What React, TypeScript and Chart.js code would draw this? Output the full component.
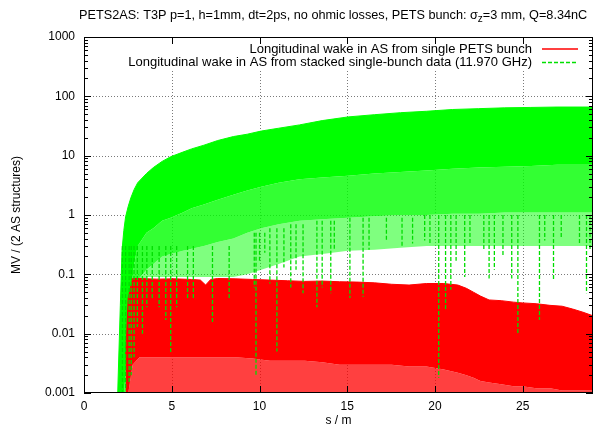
import React, { useEffect, useRef } from "react";
import { Chart, registerables } from "chart.js";

Chart.register(...registerables);

const titleMain = "PETS2AS: T3P p=1, h=1mm, dt=2ps, no ohmic losses, PETS bunch: σ";
const titleSub = "z";
const titleTail = "=3 mm, Q=8.34nC";
const legendLabels = [
  "Longitudinal wake in AS from single PETS bunch",
  "Longitudinal wake in AS from stacked single-bunch data (11.970 GHz)",
];
const xTitle = "s / m";
const yTitle = "MV / (2 AS structures)";
const xTickValues = [0, 5, 10, 15, 20, 25];
const xTickLabels = ["0", "5", "10", "15", "20", "25"];
const yTickValues = [0.001, 0.01, 0.1, 1, 10, 100, 1000];
const yTickLabels = ["0.001", "0.01", "0.1", "1", "10", "100", "1000"];

// green (stacked single-bunch) envelopes
const greenX = [1.92, 2.07, 2.17, 2.27, 2.37, 2.52, 2.67, 2.86, 3.06, 3.56, 3.95, 4.45, 4.94, 5.64, 6.13, 6.83, 7.62, 8.51, 9.3, 10.1, 11.09, 12.28, 13.57, 15.05, 16.54, 18.03, 19.51, 21.0, 22.49, 23.97, 25.46, 26.95, 28.43, 29.0];
const greenTop = [0.001, 0.03, 0.26, 0.55, 0.93, 1.4, 1.95, 2.7, 3.5, 5.0, 6.3, 8.0, 9.6, 11.5, 13, 15, 18, 21, 23, 26, 29, 33, 39, 45, 49, 53, 56, 60, 62, 64, 65, 66, 66, 66];
const greenDense = [0.001, 0.001, 0.001, 0.001, 0.002, 0.01, 0.05, 0.15, 0.3, 0.5, 0.6, 0.8, 0.9, 1.1, 1.3, 1.5, 1.8, 2.2, 2.6, 3, 3.5, 4, 4.3, 4.6, 5, 5.3, 5.6, 6, 6.3, 6.5, 6.7, 7, 7, 7];
const greenMid = [0.001, 0.001, 0.001, 0.001, 0.001, 0.002, 0.01, 0.04, 0.08, 0.12, 0.15, 0.2, 0.22, 0.25, 0.27, 0.3, 0.35, 0.4, 0.5, 0.6, 0.7, 0.8, 0.85, 0.9, 0.95, 1.0, 1.0, 1.05, 1.05, 1.1, 1.1, 1.1, 1.1, 1.1];
const greenSparse = [0.001, 0.001, 0.001, 0.001, 0.001, 0.001, 0.002, 0.006, 0.03, 0.09, 0.09, 0.09, 0.09, 0.09, 0.09, 0.09, 0.09, 0.09, 0.1, 0.12, 0.15, 0.2, 0.22, 0.25, 0.26, 0.28, 0.3, 0.3, 0.3, 0.3, 0.3, 0.3, 0.3, 0.3];

// red (single PETS bunch) envelopes
const redX = [2.37, 2.52, 2.77, 3.16, 4.15, 5.14, 6.13, 6.63, 6.93, 7.22, 7.62, 8.61, 9.6, 10.59, 11.59, 12.58, 13.57, 14.56, 15.55, 16.54, 17.53, 18.52, 19.51, 20.5, 21.3, 21.79, 22.19, 22.59, 23.08, 23.77, 24.47, 24.96, 25.76, 26.55, 27.24, 27.84, 28.43, 29.0];
const redTop = [0.004, 0.04, 0.085, 0.085, 0.083, 0.084, 0.082, 0.08, 0.066, 0.082, 0.085, 0.084, 0.082, 0.08, 0.078, 0.076, 0.077, 0.075, 0.074, 0.072, 0.068, 0.066, 0.07, 0.07, 0.066, 0.058, 0.05, 0.043, 0.037, 0.036, 0.034, 0.033, 0.032, 0.03, 0.029, 0.026, 0.023, 0.02];
const redSolidBottom = [0.001, 0.001, 0.003, 0.004, 0.004, 0.004, 0.004, 0.004, 0.004, 0.004, 0.004, 0.004, 0.0038, 0.0035, 0.0035, 0.0035, 0.0033, 0.003, 0.003, 0.003, 0.003, 0.0028, 0.0028, 0.0025, 0.0022, 0.002, 0.0018, 0.0016, 0.0015, 0.0014, 0.0013, 0.0013, 0.0012, 0.0012, 0.0011, 0.0011, 0.0011, 0.0011];

// deep dashed drops of the green curve
const spikeX = [2.19, 2.37, 2.57, 2.69, 2.85, 3.04, 3.33, 3.58, 3.89, 4.28, 4.66, 4.94, 5.28, 5.9, 6.23, 7.32, 8.27, 9.7, 9.8, 10.0, 10.3, 10.59, 10.99, 11.39, 11.78, 12.08, 12.48, 13.27, 13.57, 14.06, 14.26, 15.15, 15.9, 16.24, 17.23, 18.12, 18.72, 19.41, 19.71, 20.21, 20.6, 20.9, 21.2, 21.69, 21.99, 22.78, 23.08, 23.38, 23.87, 24.37, 24.72, 25.95, 26.25, 26.75, 27.19, 28.23, 28.63, 28.83];
const spikeTop = [0.3, 0.3, 0.3, 0.3, 0.3, 0.3, 0.3, 0.3, 0.3, 0.3, 0.3, 0.3, 0.3, 0.3, 0.3, 0.3, 0.3, 0.5, 0.5, 0.5, 0.5, 0.6, 0.6, 0.6, 0.7, 0.7, 0.7, 0.8, 0.8, 0.8, 0.8, 0.9, 0.9, 0.9, 0.9, 0.9, 0.9, 1, 1, 1, 1, 1, 1, 1, 1, 1, 1, 1, 1, 1, 1, 1, 1, 1, 1, 1, 1, 1];
const spikeMin = [0.001, 0.0012, 0.0015, 0.002, 0.004, 0.013, 0.01, 0.028, 0.04, 0.028, 0.017, 0.0046, 0.028, 0.04, 0.04, 0.015, 0.04, 0.06, 0.002, 0.17, 0.23, 0.07, 0.005, 0.13, 0.06, 0.12, 0.048, 0.028, 0.06, 0.048, 0.26, 0.04, 0.042, 0.26, 0.37, 0.3, 0.33, 0.37, 0.33, 0.0018, 0.025, 0.055, 0.17, 0.09, 0.33, 0.26, 0.085, 0.12, 0.2, 0.085, 0.01, 0.017, 0.37, 0.08, 0.4, 0.33, 0.048, 0.26];

const FONT = '"Liberation Sans", Arial, Helvetica, sans-serif';

const pts = (xs: number[], ys: number[]) => xs.map((x, i) => ({ x, y: ys[i] }));

const decor = {
  id: "decor",
  beforeDatasetsDraw(chart: any) {
    const { ctx, chartArea: a, scales } = chart;
    const sx = scales.x;
    const sy = scales.y;
    ctx.save();
    ctx.strokeStyle = "#7a7a7a";
    ctx.lineWidth = 1;
    ctx.setLineDash([1, 2]);
    ctx.beginPath();
    for (const v of yTickValues) {
      const py = Math.round(sy.getPixelForValue(v)) + 0.5;
      if (py <= a.top + 1 || py >= a.bottom - 1) continue;
      ctx.moveTo(a.left, py);
      ctx.lineTo(a.right, py);
    }
    for (const v of xTickValues) {
      const px = Math.round(sx.getPixelForValue(v)) + 0.5;
      if (px <= a.left + 1 || px >= a.right - 1) continue;
      ctx.moveTo(px, a.bottom);
      ctx.lineTo(px, a.top);
    }
    ctx.stroke();
    ctx.setLineDash([]);
    // opaque key area
    ctx.fillStyle = "#ffffff";
    ctx.fillRect(a.left + 26, a.top + 1, a.right - a.left - 28, 31);
    ctx.restore();
  },
  afterDatasetsDraw(chart: any) {
    const { ctx, chartArea: a, scales } = chart;
    const sx = scales.x;
    const sy = scales.y;
    ctx.save();
    ctx.strokeStyle = "#000";
    ctx.lineWidth = 1;
    ctx.beginPath();
    for (let i = 0; i < yTickValues.length; i++) {
      const v = yTickValues[i];
      const py = Math.round(sy.getPixelForValue(v)) + 0.5;
      ctx.moveTo(a.left, py);
      ctx.lineTo(a.left + 7, py);
      ctx.moveTo(a.right, py);
      ctx.lineTo(a.right - 7, py);
      if (i < yTickValues.length - 1) {
        for (let k = 2; k <= 9; k++) {
          const pm = Math.round(sy.getPixelForValue(v * k)) + 0.5;
          ctx.moveTo(a.left, pm);
          ctx.lineTo(a.left + 4, pm);
          ctx.moveTo(a.right, pm);
          ctx.lineTo(a.right - 4, pm);
        }
      }
    }
    for (const v of xTickValues) {
      const px = Math.round(sx.getPixelForValue(v)) + 0.5;
      ctx.moveTo(px, a.bottom);
      ctx.lineTo(px, a.bottom - 7);
      ctx.moveTo(px, a.top);
      ctx.lineTo(px, a.top + 7);
    }
    ctx.stroke();
    ctx.strokeRect(Math.round(a.left) + 0.5, Math.round(a.top) + 0.5, Math.round(a.right - a.left) - 1, Math.round(a.bottom - a.top) - 1);

    // key
    ctx.font = `13px ${FONT}`;
    ctx.fillStyle = "#000";
    ctx.textAlign = "right";
    ctx.textBaseline = "middle";
    const tx = a.right - 61;
    const y1 = a.top + 12;
    const y2 = a.top + 25;
    ctx.fillText(legendLabels[0], tx, y1);
    ctx.fillText(legendLabels[1], tx, y2);
    ctx.strokeStyle = "#ff0000";
    ctx.lineWidth = 1.5;
    ctx.beginPath();
    ctx.moveTo(a.right - 51, y1);
    ctx.lineTo(a.right - 15, y1);
    ctx.stroke();
    ctx.strokeStyle = "#00e000";
    ctx.lineWidth = 1.3;
    ctx.setLineDash([4, 2]);
    ctx.beginPath();
    ctx.moveTo(a.right - 51, y2 + 0.5);
    ctx.lineTo(a.right - 15, y2 + 0.5);
    ctx.stroke();
    ctx.setLineDash([]);
    ctx.restore();
  },
  afterDraw(chart: any) {
    const { ctx, chartArea: a } = chart;
    ctx.save();
    ctx.fillStyle = "#000";
    ctx.textBaseline = "middle";
    ctx.textAlign = "left";
    const big = `12.7px ${FONT}`;
    const small = `10px ${FONT}`;
    ctx.font = big;
    const w1 = ctx.measureText(titleMain).width;
    ctx.font = small;
    const w2 = ctx.measureText(titleSub).width;
    const x0 = 79;
    ctx.font = big;
    ctx.fillText(titleMain, x0, 15);
    ctx.font = small;
    ctx.fillText(titleSub, x0 + w1, 19);
    ctx.font = big;
    ctx.fillText(titleTail, x0 + w1 + w2, 15);
    // axis titles
    ctx.font = `12px ${FONT}`;
    ctx.textAlign = "center";
    ctx.fillText(xTitle, (a.left + a.right) / 2, 421);
    ctx.translate(17, (a.top + a.bottom) / 2);
    ctx.rotate(-Math.PI / 2);
    ctx.fillText(yTitle, 0, 0);
    ctx.restore();
  },
};

export default function App() {
  const ref = useRef<HTMLCanvasElement | null>(null);
  useEffect(() => {
    document.body.style.margin = "0";
    const canvas = ref.current;
    if (!canvas) return;
    const spikeData: any[] = [];
    spikeX.forEach((x, i) => {
      spikeData.push({ x, y: spikeTop[i] });
      spikeData.push({ x, y: spikeMin[i] });
      spikeData.push({ x, y: null });
    });
    const base = { pointRadius: 0, tension: 0, borderWidth: 0 };
    const chart = new Chart(canvas, {
      type: "line",
      data: {
        datasets: [
          { ...base, data: pts(greenX, greenTop), fill: "+1", backgroundColor: "#00ff00", borderColor: "#00ff00", borderWidth: 1, order: 8 },
          { ...base, data: pts(greenX, greenDense), fill: "+1", backgroundColor: "rgba(0,255,0,0.8)", borderColor: "rgba(0,0,0,0)", order: 9 },
          { ...base, data: pts(greenX, greenMid), fill: "+1", backgroundColor: "rgba(0,255,0,0.5)", borderColor: "rgba(0,0,0,0)", order: 10 },
          { ...base, data: pts(greenX, greenSparse), fill: false, borderColor: "rgba(0,0,0,0)", order: 11 },
          { ...base, data: pts(redX, redTop), fill: "+1", backgroundColor: "#ff0000", borderColor: "#ff0000", borderWidth: 1, order: 6 },
          { ...base, data: pts(redX, redSolidBottom), fill: { value: 0.001 }, backgroundColor: "rgba(255,0,0,0.75)", borderColor: "rgba(0,0,0,0)", order: 7 },
          { ...base, data: spikeData, fill: false, borderColor: "#00dd00", borderWidth: 1.3, borderDash: [4, 2], spanGaps: false, order: 1 },
        ],
      },
      options: {
        animation: false,
        responsive: false,
        events: [],
        layout: { padding: { top: 37, right: 6, left: 0, bottom: 0 } },
        plugins: { legend: { display: false }, tooltip: { enabled: false }, title: { display: false } },
        scales: {
          x: {
            type: "linear",
            min: 0,
            max: 29,
            grid: { display: false, drawTicks: false },
            border: { display: false },
            afterBuildTicks: (s: any) => {
              s.ticks = xTickValues.map((v) => ({ value: v }));
            },
            afterFit: (s: any) => {
              s.height = 39;
            },
            ticks: {
              padding: 6,
              maxRotation: 0,
              autoSkip: false,
              color: "#000",
              font: { family: FONT, size: 12 },
              callback: (_v: any, i: number) => xTickLabels[i],
            },
          },
          y: {
            type: "logarithmic",
            min: 0.001,
            max: 1000,
            grid: { display: false, drawTicks: false },
            border: { display: false },
            afterBuildTicks: (s: any) => {
              s.ticks = yTickValues.map((v) => ({ value: v }));
            },
            afterFit: (s: any) => {
              s.width = 84;
            },
            ticks: {
              padding: 9,
              autoSkip: false,
              color: "#000",
              font: { family: FONT, size: 12 },
              callback: (_v: any, i: number) => yTickLabels[i],
            },
          },
        },
      },
      plugins: [decor],
    } as any);
    return () => chart.destroy();
  }, []);
  return (
    <div style={{ position: "absolute", left: 0, top: 0, width: 599, height: 432, background: "#fff" }}>
      <canvas ref={ref} width={599} height={432} style={{ display: "block", width: 599, height: 432 }} />
    </div>
  );
}
